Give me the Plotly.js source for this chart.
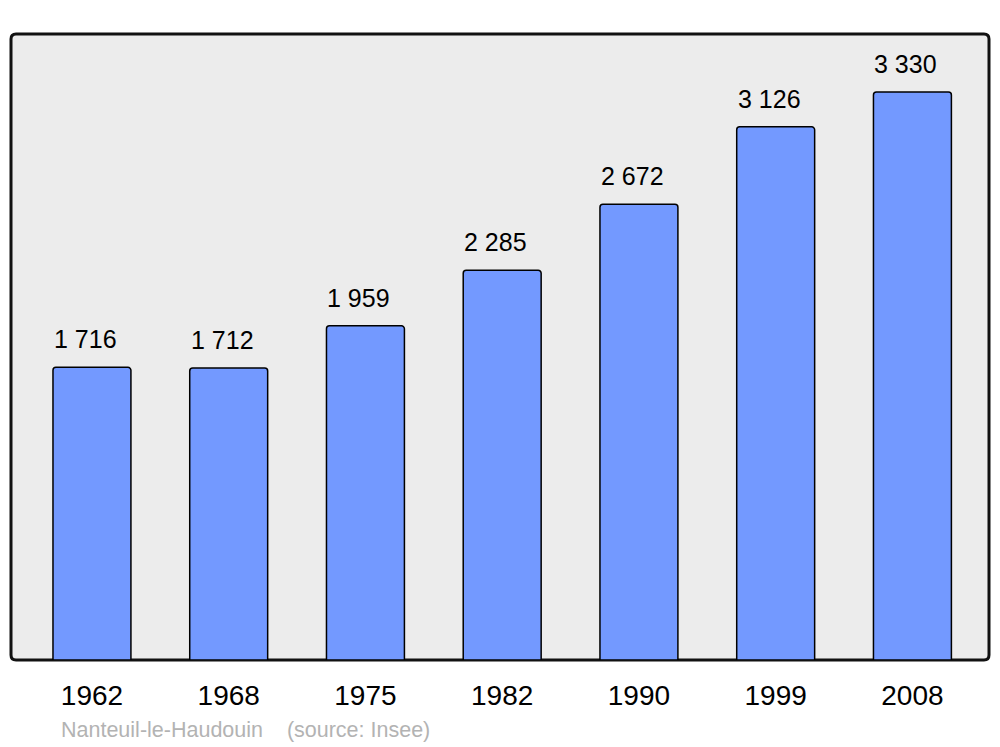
<!DOCTYPE html>
<html>
<head>
<meta charset="utf-8">
<script src="https://cdn.plot.ly/plotly-3.0.1.min.js"></script>
<style>html,body{margin:0;padding:0;background:#fff;}#chart{width:1000px;height:747px;}</style>
</head>
<body>
<div id="chart"></div>
<script>
const years = ["1962", "1968", "1975", "1982", "1990", "1999", "2008"];
const population = [1716, 1712, 1959, 2285, 2672, 3126, 3330];
const sourceText = "Nanteuil-le-Haudouin\u00a0\u00a0\u00a0\u00a0(source: Insee)";

function fmt(v) {
  return String(v).replace(/\B(?=(\d{3})+(?!\d))/g, "\u00a0");
}

const W = 978, H = 626;
const rx = 5 / W, ry = 5 / H;
const framePath = `M ${rx},0 L ${1-rx},0 Q 1,0 1,${ry} L 1,${1-ry} Q 1,1 ${1-rx},1 L ${rx},1 Q 0,1 0,${1-ry} L 0,${ry} Q 0,0 ${rx},0 Z`;

const annotations = years.map((y, i) => ({
  x: i, y: population[i], xref: 'x', yref: 'y',
  text: fmt(population[i]), showarrow: false,
  yanchor: 'bottom', xanchor: 'center', yshift: 12, xshift: -6.5,
  font: {family: '"Liberation Sans", Arial, sans-serif', size: 25, color: '#000'}
}));
annotations.push({
  xref: 'paper', yref: 'paper', x: (59 - 11) / W, y: -(730 - 660) / H,
  xanchor: 'left', yanchor: 'middle', showarrow: false,
  text: sourceText,
  font: {family: '"Liberation Sans", Arial, sans-serif', size: 21.5, color: '#b3b3b3'}
});

const trace = {
  type: 'bar', x: years, y: population,
  marker: {color: '#7399ff', line: {color: '#000', width: 1.5}, cornerradius: 3},
  hoverinfo: 'skip'
};

const layout = {
  width: 1000, height: 747,
  margin: {l: 11, r: 11, t: 34, b: 87, pad: 0},
  paper_bgcolor: '#ffffff', plot_bgcolor: 'rgba(0,0,0,0)',
  bargap: 0.43, showlegend: false,
  font: {family: '"Liberation Sans", Arial, sans-serif', color: '#000'},
  xaxis: {
    type: 'category', range: [-0.592, 6.56], showgrid: false, zeroline: false,
    showline: false, ticks: '', ticklabelstandoff: 16,
    tickfont: {family: '"Liberation Sans", Arial, sans-serif', size: 28, color: '#000'},
    fixedrange: true
  },
  yaxis: {
    range: [0, 3670], showgrid: false, zeroline: false, showline: false,
    showticklabels: false, ticks: '', fixedrange: true
  },
  shapes: [{
    type: 'path', xref: 'paper', yref: 'paper', path: framePath,
    fillcolor: '#ececec', line: {color: '#111', width: 3}, layer: 'below'
  }],
  annotations: annotations
};

Plotly.newPlot('chart', [trace], layout, {staticPlot: true, displayModeBar: false});
</script>
</body>
</html>
